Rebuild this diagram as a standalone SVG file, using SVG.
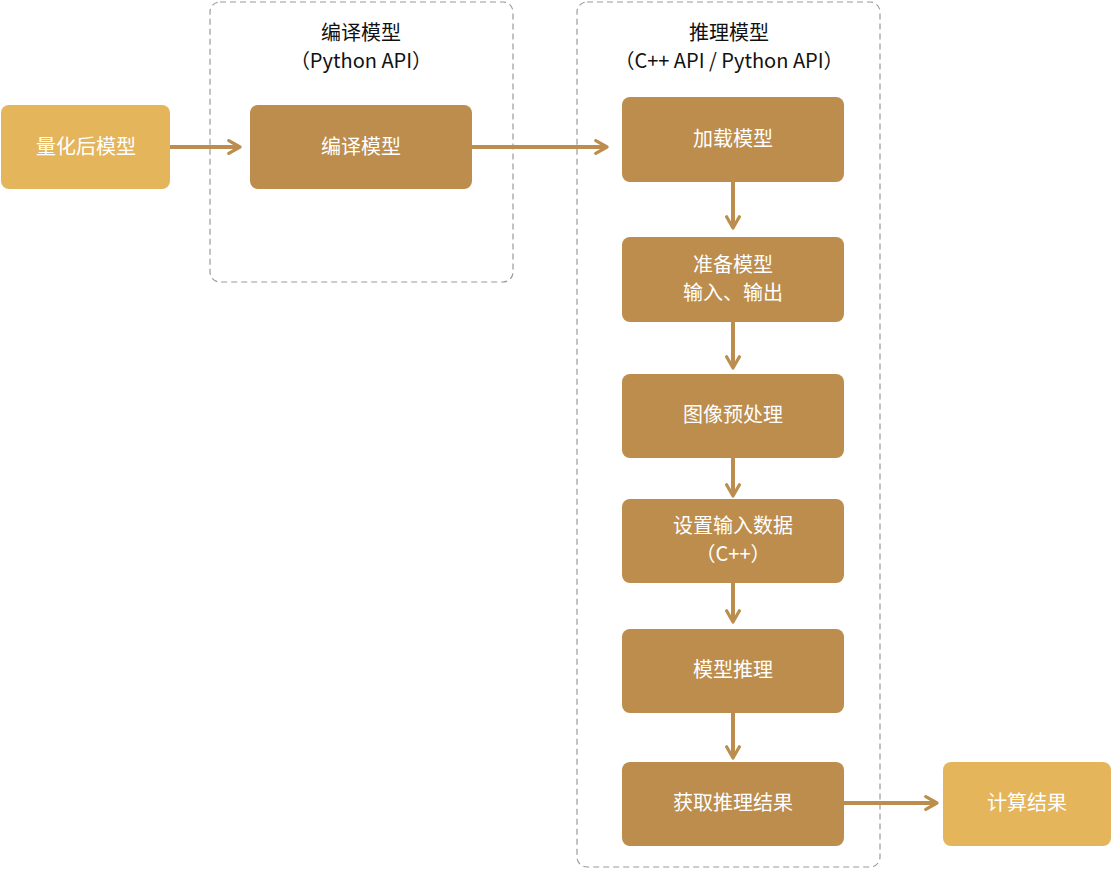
<svg xmlns="http://www.w3.org/2000/svg" width="1113" height="870" viewBox="0 0 1113 870">
<style>
.grp{fill:none;stroke:#9a9a9a;stroke-width:1.2;stroke-dasharray:6 4}
.lt{fill:#E5B55B}
.dk{fill:#BC8D4D}
.t{font-family:"Noto Sans CJK SC","Noto Sans",sans-serif;font-size:20px;fill:#fff;text-anchor:middle}
.h{font-family:"Noto Sans CJK SC","Noto Sans",sans-serif;font-size:20px;fill:#111;text-anchor:middle}
.c{stroke:#BC8D4D;stroke-width:4;fill:none}
</style>
<defs>
<marker id="a" viewBox="0 0 10 10" refX="9" refY="5" markerWidth="4" markerHeight="4" orient="auto" markerUnits="strokeWidth">
<path d="M2,1 L9,5 L2,9" fill="none" stroke="#BC8D4D" stroke-width="2" stroke-linecap="round" stroke-linejoin="round"/>
</marker>
</defs>
<g id="compile-group">
<rect class="grp" x="210" y="2" width="303" height="280" rx="10"/>
<text class="h" x="361" y="40">编译模型</text>
<text class="h" x="361" y="68">（Python API）</text>
</g>
<g id="infer-group">
<rect class="grp" x="577" y="2" width="303" height="865" rx="10"/>
<text class="h" x="729" y="40">推理模型</text>
<text class="h" x="729" y="68">（C++ API / Python API）</text>
</g>
<g id="connectors">
<line class="c" x1="170" y1="147" x2="240" y2="147" marker-end="url(#a)"/>
<line class="c" x1="472" y1="147" x2="607" y2="147" marker-end="url(#a)"/>
<line class="c" x1="733" y1="182" x2="733" y2="228" marker-end="url(#a)"/>
<line class="c" x1="733" y1="322" x2="733" y2="368" marker-end="url(#a)"/>
<line class="c" x1="733" y1="458" x2="733" y2="496" marker-end="url(#a)"/>
<line class="c" x1="733" y1="583" x2="733" y2="622" marker-end="url(#a)"/>
<line class="c" x1="733" y1="713" x2="733" y2="758" marker-end="url(#a)"/>
<line class="c" x1="844" y1="803" x2="937" y2="803" marker-end="url(#a)"/>
</g>
<g id="n1"><rect class="lt" x="1" y="105" width="169" height="84" rx="8"/><text class="t" x="86" y="154">量化后模型</text></g>
<g id="n2"><rect class="dk" x="250" y="105" width="222" height="84" rx="8"/><text class="t" x="361" y="154">编译模型</text></g>
<g id="n3"><rect class="dk" x="622" y="97" width="222" height="85" rx="8"/><text class="t" x="733" y="146">加载模型</text></g>
<g id="n4"><rect class="dk" x="622" y="237" width="222" height="85" rx="8"/><text class="t" x="733" y="272">准备模型</text><text class="t" x="733" y="300">输入、输出</text></g>
<g id="n5"><rect class="dk" x="622" y="374" width="222" height="84" rx="8"/><text class="t" x="733" y="422">图像预处理</text></g>
<g id="n6"><rect class="dk" x="622" y="499" width="222" height="84" rx="8"/><text class="t" x="733" y="533">设置输入数据</text><text class="t" x="733" y="561">（C++）</text></g>
<g id="n7"><rect class="dk" x="622" y="629" width="222" height="84" rx="8"/><text class="t" x="733" y="677">模型推理</text></g>
<g id="n8"><rect class="dk" x="622" y="762" width="222" height="84" rx="8"/><text class="t" x="733" y="810">获取推理结果</text></g>
<g id="n9"><rect class="lt" x="943" y="762" width="168" height="84" rx="8"/><text class="t" x="1027" y="810">计算结果</text></g>
</svg>
